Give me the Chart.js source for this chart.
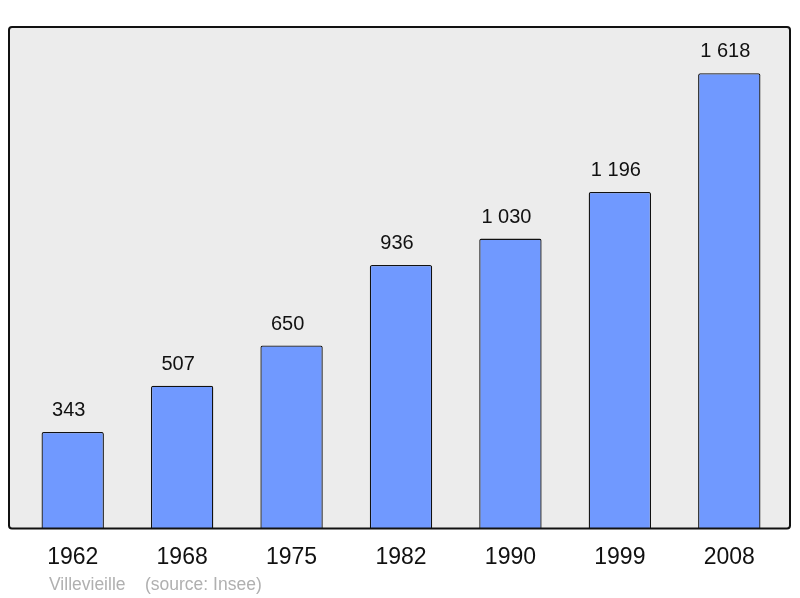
<!DOCTYPE html>
<html>
<head>
<meta charset="utf-8">
<script src="https://cdn.jsdelivr.net/npm/chart.js@4"></script>
<style>
  html, body { margin: 0; padding: 0; background: #fff; }
  #wrap { width: 800px; height: 598px; }
</style>
</head>
<body>
<div id="wrap"><canvas id="chart"></canvas></div>
<script>
const years = ["1962", "1968", "1975", "1982", "1990", "1999", "2008"];
const population = [343, 507, 650, 936, 1030, 1196, 1618];
const yMax = 1782;
const placeName = "Villevieille";
const sourceText = "(source: Insee)";

function formatNumber(n) {
    return String(n).replace(/\B(?=(\d{3})+(?!\d))/g, " ");
}

// grey frame behind the bars
const framePlugin = {
    id: "frame",
    beforeDatasetsDraw(chart) {
        const { ctx, chartArea } = chart;
        const x = chartArea.left - 9, y = chartArea.top;
        const w = chartArea.right - chartArea.left + 15, h = chartArea.bottom - chartArea.top;
        ctx.save();
        ctx.beginPath();
        ctx.roundRect(x, y, w, h, 3);
        ctx.fillStyle = "#ececec";
        ctx.fill();
        ctx.restore();
    },
    afterDatasetsDraw(chart) {
        const { ctx, chartArea } = chart;
        const x = chartArea.left - 9, y = chartArea.top;
        const w = chartArea.right - chartArea.left + 15, h = chartArea.bottom - chartArea.top;
        ctx.save();
        ctx.beginPath();
        ctx.roundRect(x, y, w, h, 3);
        ctx.lineWidth = 2;
        ctx.strokeStyle = "#111";
        ctx.stroke();

        // value labels (sit a little left of the bar centre, like the original)
        ctx.fillStyle = "#111";
        ctx.font = "20px 'Liberation Sans', Arial, sans-serif";
        ctx.textAlign = "center";
        ctx.textBaseline = "alphabetic";
        chart.getDatasetMeta(0).data.forEach((bar, i) => {
            ctx.fillText(formatNumber(population[i]), bar.x - 4, bar.y - 16);
        });

        // footer
        ctx.fillStyle = "#b0b0b0";
        ctx.font = "17.5px 'Liberation Sans', Arial, sans-serif";
        ctx.textAlign = "left";
        ctx.fillText(placeName, chartArea.left + 31, 590);
        ctx.fillText(sourceText, chartArea.left + 127, 590);
        ctx.restore();
    }
};

new Chart(document.getElementById("chart"), {
    type: "bar",
    data: {
        labels: years,
        datasets: [{
            data: population,
            backgroundColor: "#7099ff",
            borderColor: "#111",
            borderWidth: 1.3,
            borderSkipped: "bottom",
            borderRadius: 2,
            barPercentage: 0.57,
            categoryPercentage: 1
        }]
    },
    options: {
        responsive: true,
        maintainAspectRatio: false,
        animation: false,
        layout: { padding: { left: 18, right: 16, top: 27, bottom: 20 } },
        plugins: {
            legend: { display: false },
            tooltip: { enabled: false }
        },
        scales: {
            x: {
                grid: { display: false },
                border: { display: false },
                ticks: {
                    color: "#111",
                    padding: 7,
                    font: { family: "'Liberation Sans', Arial, sans-serif", size: 23 }
                }
            },
            y: {
                display: false,
                min: 0,
                max: yMax
            }
        }
    },
    plugins: [framePlugin]
});
</script>
</body>
</html>
